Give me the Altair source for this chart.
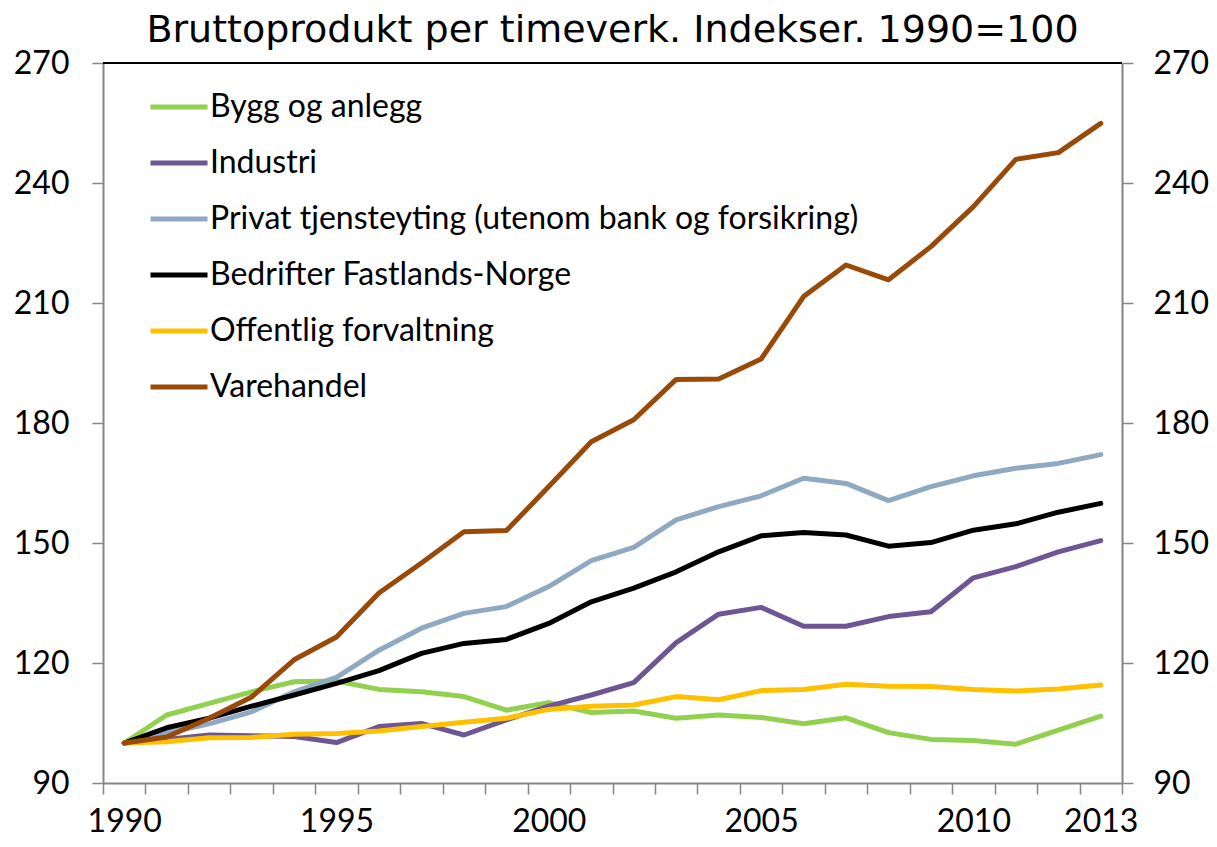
import altair as alt
import pandas as pd

years = list(range(1990, 2014))
series_names = [
    "Bygg og anlegg",
    "Industri",
    "Privat tjensteyting (utenom bank og forsikring)",
    "Bedrifter Fastlands-Norge",
    "Offentlig forvaltning",
    "Varehandel",
]
series_colors = ["#92D050", "#6E5694", "#8EA9C1", "#000000", "#FFC000", "#9A4A08"]

bygg = [100, 107, 109.9, 112.8, 115.3, 115.5, 113.4, 112.8, 111.6, 108.2, 110.1, 107.6,
        108, 106.2, 107, 106.4, 104.8, 106.3, 102.6, 100.9, 100.6, 99.7, 103.2, 106.7]
industri = [100, 100.9, 102, 101.8, 101.6, 100.1, 104.1, 104.9, 102, 105.8, 109.2, 112,
            115.1, 125.1, 132.2, 133.9, 129.2, 129.2, 131.6, 132.8, 141.3, 144.1, 147.8, 150.6]
privat = [100, 102.5, 104.8, 107.8, 112.8, 116.4, 123.2, 128.7, 132.4, 134.1, 139.1, 145.6,
          148.9, 155.8, 159.1, 161.8, 166.2, 164.9, 160.6, 164.1, 166.8, 168.7, 169.9, 172.1]
bedrifter = [100, 103.8, 106.2, 109.2, 112, 114.9, 118.1, 122.4, 124.9, 125.9, 129.9, 135.3,
             138.7, 142.8, 147.8, 151.8, 152.6, 152, 149.2, 150.1, 153.2, 154.8, 157.7, 159.9]
offentlig = [100, 100.3, 101.3, 101.4, 102.2, 102.4, 103, 104.1, 105.2, 106.2, 108.4, 109.2,
             109.5, 111.6, 110.8, 113.1, 113.4, 114.7, 114.2, 114.1, 113.4, 113, 113.5, 114.5]
varehandel = [100, 101.5, 106.2, 111.5, 120.8, 126.5, 137.5, 145, 152.8, 153.1, 164.1, 175.3,
              180.8, 190.9, 191, 196, 211.6, 219.5, 215.8, 224.1, 234.1, 245.9, 247.6, 254.9]

y_ticks = [90, 120, 150, 180, 210, 240, 270]
x_labels = [1990, 1995, 2000, 2005, 2010, 2013]

all_series = [bygg, industri, privat, bedrifter, offentlig, varehandel]
rows = []
for name, vals in zip(series_names, all_series):
    for yr, v in zip(years, vals):
        rows.append({"year": yr, "serie": name, "value": v})
df = pd.DataFrame(rows)

FONT = "Lato"
GRAY = "#868686"
FS = 32

x_bounds = [y - 0.5 for y in years] + [years[-1] + 0.5]
x_scale = alt.Scale(domain=[years[0] - 0.5, years[-1] + 0.5], nice=False, zero=False)
y_scale = alt.Scale(domain=[y_ticks[0], y_ticks[-1]], nice=False, zero=False)

label_list = ",".join(str(v) for v in x_labels)
x_axis = alt.Axis(
    values=x_bounds,
    labelExpr=f"indexof([{label_list}], datum.value + 0.5) >= 0 ? format(datum.value + 0.5, 'd') : ''",
    labelOffset=21.2,
    labelOverlap=False,
    labelFlush=False,
    labelBound=False,
    title=None,
    grid=False,
    tickSize=11,
    tickColor=GRAY,
    tickWidth=1.5,
    domainColor=GRAY,
    domainWidth=2,
    labelFont=FONT,
    labelFontSize=FS,
    labelColor="black",
    labelPadding=12,
)

def y_axis(orient, pad):
    return alt.Axis(
        orient=orient,
        values=y_ticks,
        title=None,
        grid=False,
        tickSize=11,
        tickColor=GRAY,
        tickWidth=1.5,
        domainColor=GRAY,
        domainWidth=2,
        labelFont=FONT,
        labelFontSize=FS,
        labelColor="black",
        labelPadding=pad,
        labelFlush=False,
        labelOverlap=False,
    )

lines = alt.Chart(df).mark_line(strokeWidth=5, strokeJoin="round", strokeCap="round").encode(
    x=alt.X("year:Q", scale=x_scale, axis=x_axis),
    y=alt.Y("value:Q", scale=y_scale, axis=y_axis("left", 23)),
    color=alt.Color(
        "serie:N",
        scale=alt.Scale(domain=series_names, range=series_colors),
        legend=alt.Legend(
            orient="none",
            legendX=45,
            legendY=13,
            title=None,
            symbolType="stroke",
            symbolSize=3249,
            symbolStrokeWidth=5,
            labelFont=FONT,
            labelFontSize=FS,
            labelColor="black",
            labelLimit=1000,
            labelOffset=0,
            rowPadding=9,
            padding=0,
        ),
    ),
)

top_rule = alt.Chart(df).mark_rule(color="black", strokeWidth=1).encode(
    x=alt.X(datum=years[0] - 0.5, scale=x_scale, axis=x_axis),
    x2=alt.X2(datum=years[-1] + 0.5),
    y=alt.Y(datum=y_ticks[-1], scale=y_scale, axis=y_axis("right", 20)),
)

chart = alt.layer(lines, top_rule).resolve_axis(y="independent").properties(
    width=1019,
    height=720,
    padding={"left": 95, "top": 55, "right": 87, "bottom": 56},
    autosize=alt.AutoSizeParams(type="none"),
    title=alt.TitleParams(
        "Bruttoprodukt per timeverk. Indekser. 1990=100",
        font="DejaVu Sans",
        fontSize=38,
        fontWeight="normal",
        color="black",
        anchor="middle",
        frame="group",
        offset=-3,
    ),
).configure_view(stroke=None)

chart.save("out.html", embed_options={"renderer": "svg", "actions": False})
